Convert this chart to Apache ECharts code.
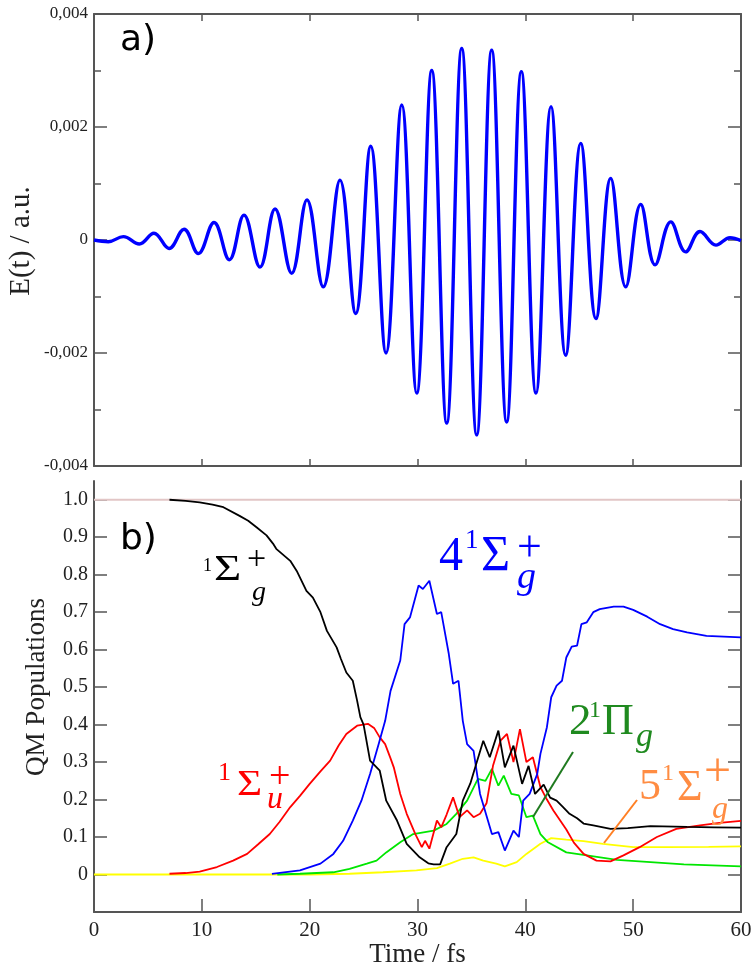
<!DOCTYPE html>
<html>
<head>
<meta charset="utf-8">
<script src="https://cdn.jsdelivr.net/npm/echarts@6/dist/echarts.min.js"></script>
<style>
html,body{margin:0;padding:0;background:#fff;}
#chart{width:754px;height:963px;}
</style>
</head>
<body>
<div id="chart"></div>
<script>
// ---------- Panel a) : laser field E(t) (extrema read from the figure) ----------
const eTime = [0,1.33,2.72,4.20,5.56,6.96,8.35,9.67,11.13,12.55,13.91,15.39,16.79,18.33,19.75,21.26,22.81,24.27,25.66,27.08,28.54,29.93,31.32,32.71,34.10,35.49,36.88,38.27,39.63,40.99,42.38,43.74,45.14,46.55,47.92,49.31,50.70,52.03,53.49,54.87,56.20,57.68,58.98,60];
const eField = [0,-0.00003,0.00006,-0.00007,0.00012,-0.00015,0.00019,-0.00024,0.00031,-0.00035,0.00044,-0.00048,0.00055,-0.00059,0.00071,-0.00083,0.00106,-0.0013,0.00166,-0.0020,0.00239,-0.00271,0.0030,-0.00324,0.00339,-0.00345,0.00336,-0.00322,0.00298,-0.00271,0.00236,-0.00204,0.00171,-0.00139,0.00109,-0.00083,0.00063,-0.00044,0.00032,-0.00021,0.00015,-0.00009,0.00004,-0.00001];

// ---------- Panel b) : QM populations ----------
const totalPop = [[0,1.0],[60,1.0]];
const ground = [[7,1.0],[8.5,0.997],[9.8,0.993],[11,0.987],[12,0.98],[13.5,0.957],[14.3,0.944],[15.1,0.926],[16.0,0.905],[16.6,0.883],[16.9,0.869],[18.2,0.837],[18.8,0.81],[19.7,0.757],[20.3,0.739],[21.0,0.70],[21.6,0.65],[22.5,0.606],[22.9,0.575],[23.4,0.539],[24.0,0.517],[24.4,0.464],[24.7,0.42],[25.0,0.40],[25.6,0.304],[26.5,0.277],[27.1,0.197],[28.1,0.144],[29.0,0.082],[30.2,0.046],[31.0,0.03],[31.5,0.027],[32.1,0.027],[32.7,0.073],[33.6,0.108],[34.2,0.197],[34.9,0.243],[35.5,0.30],[36.1,0.357],[36.7,0.313],[37.5,0.384],[38.1,0.286],[38.9,0.344],[39.7,0.242],[40.3,0.29],[40.9,0.215],[41.7,0.24],[42.3,0.205],[42.9,0.197],[43.5,0.18],[44.1,0.162],[44.8,0.15],[45.4,0.136],[46.3,0.131],[47.9,0.122],[49.5,0.124],[51.6,0.129],[55,0.127],[57.5,0.126],[60,0.125]];
const sigmaU = [[7.0,0.002],[8.5,0.004],[9.8,0.008],[11.4,0.02],[12.9,0.037],[14.2,0.055],[15.2,0.08],[16.3,0.108],[17.2,0.14],[18.2,0.18],[19.1,0.21],[20,0.242],[21,0.275],[21.9,0.304],[22.7,0.345],[23.4,0.375],[24.4,0.397],[25.4,0.402],[26.0,0.39],[26.5,0.366],[27.0,0.348],[27.5,0.31],[27.8,0.286],[28.4,0.215],[29.0,0.162],[29.8,0.108],[30.4,0.073],[30.7,0.09],[31.1,0.069],[31.8,0.144],[32.2,0.126],[32.7,0.16],[33.3,0.206],[33.9,0.153],[34.6,0.171],[35.2,0.153],[35.8,0.162],[36.4,0.19],[37.0,0.29],[37.7,0.357],[38.3,0.375],[38.9,0.30],[39.5,0.388],[40.1,0.30],[40.7,0.313],[41.4,0.233],[42.0,0.20],[42.6,0.171],[43.8,0.12],[44.5,0.085],[45.4,0.055],[46.6,0.037],[47.9,0.035],[49.1,0.051],[50.6,0.073],[52.2,0.10],[54,0.122],[56.2,0.131],[58,0.138],[60,0.143]];
const sigma4g = [[16.5,0.002],[19.1,0.011],[21,0.029],[22.2,0.055],[23.1,0.09],[24.0,0.144],[24.8,0.197],[25.6,0.268],[26.4,0.348],[27.0,0.41],[27.5,0.49],[28.4,0.571],[28.8,0.668],[29.3,0.686],[30.1,0.771],[30.5,0.762],[31.1,0.784],[31.8,0.695],[32.2,0.70],[32.9,0.589],[33.3,0.509],[33.8,0.517],[34.2,0.41],[34.6,0.348],[35.2,0.33],[35.8,0.215],[36.9,0.108],[37.5,0.113],[38.1,0.064],[38.9,0.117],[39.4,0.10],[39.8,0.197],[40.4,0.215],[41.1,0.268],[41.4,0.322],[42.0,0.393],[42.4,0.473],[42.9,0.504],[43.4,0.517],[43.8,0.579],[44.3,0.608],[44.8,0.611],[45.2,0.668],[45.7,0.673],[46.3,0.70],[46.9,0.708],[48.2,0.715],[49.1,0.715],[50.0,0.706],[51.3,0.688],[52.5,0.668],[53.7,0.655],[55,0.646],[56.8,0.637],[60,0.633]];
const pi2g = [[17,0.0],[19.1,0.002],[22.2,0.006],[23.7,0.015],[25.3,0.029],[26.2,0.037],[27.1,0.059],[28.4,0.086],[29.6,0.108],[31.5,0.117],[32.7,0.135],[33.6,0.162],[34.6,0.197],[35.6,0.255],[36.3,0.25],[36.9,0.282],[37.5,0.237],[38.0,0.264],[38.7,0.215],[39.4,0.211],[40.1,0.153],[40.7,0.157],[41.4,0.108],[42.1,0.086],[43.8,0.059],[45.7,0.051],[48.5,0.039],[51.6,0.033],[54.7,0.027],[60,0.022]];
const sigma5g = [[0,0.0],[20,0.0],[23.7,0.002],[26.8,0.006],[29.9,0.011],[31.8,0.017],[33,0.029],[34.2,0.042],[35.2,0.046],[36.1,0.037],[37.3,0.029],[38.1,0.022],[39.2,0.033],[40.1,0.055],[41.4,0.082],[42.4,0.097],[43.8,0.093],[45.4,0.089],[47.2,0.082],[50,0.073],[53.1,0.073],[57,0.074],[60,0.075]];

// ---------- tick labels ----------
const timeTicks = [0,10,20,30,40,50,60];
const timeTickLabels = ['0','10','20','30','40','50','60'];
const fieldTicks = [-0.004,-0.002,0,0.002,0.004];
const fieldTickLabels = ['-0,004','-0,002','0','0,002','0,004'];
const popTicks = [0,0.1,0.2,0.3,0.4,0.5,0.6,0.7,0.8,0.9,1.0];
const popTickLabels = ['0','0.1','0.2','0.3','0.4','0.5','0.6','0.7','0.8','0.9','1.0'];

function lookup(vals, labels){
  return function(v){
    for (let i=0;i<vals.length;i++){ if (Math.abs(v-vals[i])<1e-9) return labels[i]; }
    return '';
  };
}

const SERIF = '"Liberation Serif","DejaVu Serif",serif';
const AX = '#555';

const chart = echarts.init(document.getElementById('chart'), null, {renderer:'canvas'});

// text glyph helper for annotation labels
function g(text, x, cy, fs, color, italic, sx){
  const el = {type:'text', x:x, y:cy, z:100,
    style:{text:text, font:(italic?'italic ':'')+fs+'px '+SERIF, fill:color, textAlign:'left', textVerticalAlign:'middle'}};
  if (sx) el.scaleX = sx;
  return el;
}
const annot = [
  {type:'text', x:120, y:41, z:100, style:{text:'a)', font:'36px "DejaVu Sans",sans-serif', fill:'#000', textVerticalAlign:'middle'}},
  {type:'text', x:120, y:540, z:100, style:{text:'b)', font:'36px "DejaVu Sans",sans-serif', fill:'#000', textVerticalAlign:'middle'}},
  {type:'text', x:21, y:241, rotation:Math.PI/2, z:100, style:{text:'E(t) / a.u.', font:'29px '+SERIF, fill:'#222', textAlign:'center', textVerticalAlign:'middle'}},
  {type:'text', x:37, y:687, rotation:Math.PI/2, z:100, style:{text:'QM Populations', font:'27px '+SERIF, fill:'#222', textAlign:'center', textVerticalAlign:'middle'}},
  // 1Σg+
  g('1',203,566,18,'#000'), g('Σ',214,571,36,'#000',false,1.3), g('+',247,560,34,'#000'), g('g',252,593,28,'#000',true),
  // 4 1Σg+
  g('4',439,557,48,'#0000ff'), g('1',465,541,27,'#0000ff'), g('Σ',481,557,50,'#0000ff'), g('+',517,549,44,'#0000ff'), g('g',517,578,38,'#0000ff',true),
  // 1Σu+
  g('1',218,773,26,'#ff0000'), g('Σ',237,786,36,'#ff0000',false,1.2), g('+',269,778,38,'#ff0000'), g('u',267,800,32,'#ff0000',true),
  // 2 1Πg
  g('2',569,722,45,'#1f8a1f'), g('1',589,711,24,'#1f8a1f'), g('Π',602,722,44,'#1f8a1f'), g('g',636,737,34,'#1f8a1f',true),
  // 5 1Σg+
  g('5',639,787,44,'#ff8c42'), g('1',662,774,24,'#ff8c42'), g('Σ',677,788,44,'#ff8c42'), g('+',704,773,48,'#ff8c42'), g('g',712,810,32,'#ff8c42',true),
  {type:'line', z:100, shape:{x1:573,y1:752,x2:533,y2:817}, style:{stroke:'#1f7a1f', lineWidth:2}},
  {type:'line', z:100, shape:{x1:637,y1:800,x2:604,y2:843}, style:{stroke:'#ff7f24', lineWidth:2}}
];

function xAx(grid, pos, showLabel, tickLen, name){
  return {type:'value', gridIndex:grid, position:pos, min:0, max:60, interval:10,
    axisLine:{show:true, onZero:false, lineStyle:{color:AX, width:2}},
    axisTick:{show:true, inside:true, length:tickLen, lineStyle:{color:AX, width:1.5}},
    axisLabel:{show:showLabel, margin:8, color:'#222', fontFamily:SERIF, fontSize:21, formatter:lookup(timeTicks,timeTickLabels)},
    splitLine:{show:false},
    name:name||'', nameLocation:'middle', nameGap:27,
    nameTextStyle:{color:'#222', fontFamily:SERIF, fontSize:27}};
}
function yField(pos, showLabel){
  return {type:'value', gridIndex:0, position:pos, min:-0.004, max:0.004, interval:0.002,
    axisLine:{show:true, onZero:false, lineStyle:{color:AX, width:2}},
    axisTick:{show:true, inside:true, length:13, lineStyle:{color:AX, width:1.5}},
    minorTick:{show:true, splitNumber:2, length:7, lineStyle:{color:AX, width:1.5}},
    axisLabel:{show:showLabel, margin:6, color:'#222', fontFamily:SERIF, fontSize:17, formatter:lookup(fieldTicks,fieldTickLabels)},
    splitLine:{show:false}, minorSplitLine:{show:false}};
}
function yPop(pos, showLabel){
  return {type:'value', gridIndex:1, position:pos, min:-0.1, max:1.05,
    axisLine:{show:true, onZero:false, lineStyle:{color:AX, width:2}},
    axisTick:{show:true, inside:true, length:13, customValues:popTicks, lineStyle:{color:AX, width:1.5}},
    axisLabel:{show:showLabel, margin:6, color:'#222', fontFamily:SERIF, fontSize:20, customValues:popTicks, formatter:lookup(popTicks,popTickLabels)},
    splitLine:{show:false}};
}

function popLine(data, color, width, z){
  return {type:'line', xAxisIndex:2, yAxisIndex:2, data:data, showSymbol:false, symbol:'none',
    lineStyle:{color:color, width:width}, z:z, animation:false, silent:true};
}

const option = {
  animation:false,
  backgroundColor:'#fff',
  grid:[
    {left:94, top:14, width:647, height:452, containLabel:false, outerBoundsMode:'none'},
    {left:94, top:481, width:647, height:431, containLabel:false, outerBoundsMode:'none'}
  ],
  xAxis:[ xAx(0,'bottom',false,7), xAx(0,'top',false,7), xAx(1,'bottom',true,13,'Time / fs') ],
  yAxis:[ yField('left',true), yField('right',false), yPop('left',true), yPop('right',false) ],
  series:[
    {type:'line', xAxisIndex:0, yAxisIndex:0, data:eTime.map((t,i)=>[t,eField[i]]), smooth:0.4,
      showSymbol:false, symbol:'none', lineStyle:{color:'#0000ff', width:3.4}, silent:true},
    popLine(totalPop,'#e2c6c6',2,1),
    popLine(sigma5g,'#ffff00',1.8,2),
    popLine(pi2g,'#00e600',1.8,3),
    popLine(sigmaU,'#ff0000',1.8,4),
    popLine(sigma4g,'#0000ff',1.8,5),
    popLine(ground,'#000000',1.8,6)
  ],
  graphic: annot
};
chart.setOption(option);
</script>
</body>
</html>
